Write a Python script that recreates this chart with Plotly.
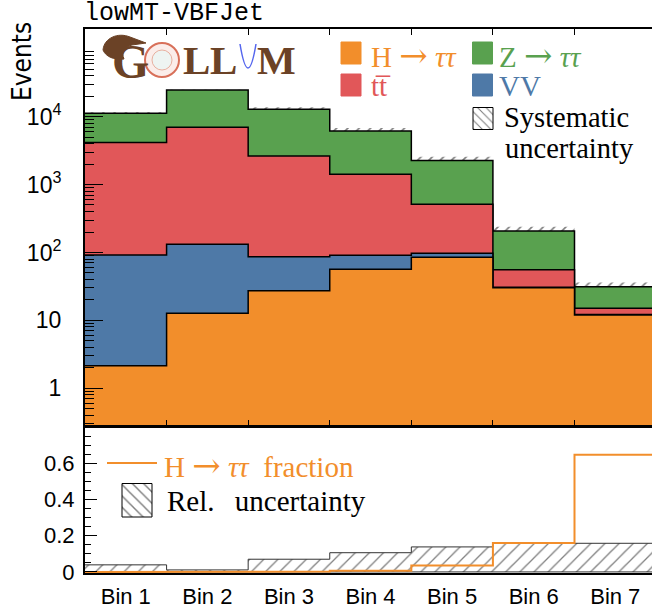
import plotly.graph_objects as go

# ---------------- data ----------------
bins = ["Bin 1", "Bin 2", "Bin 3", "Bin 4", "Bin 5", "Bin 6", "Bin 7"]
h_tautau = [2.15, 12.7, 27.4, 56.6, 85.1, 30.3, 12.0]
vv = [89.6, 119, 59.3, 34.5, 12.2, 0.5, 0.2]
ttbar = [4050, 6850, 2550, 1330, 416, 25.0, 2.9]
z_tautau = [7060, 17700, 10160, 4740, 1737, 151, 16.2]
rel_unc = [0.039, 0.011, 0.070, 0.106, 0.138, 0.158, 0.158]
h_fraction = [0.0002, 0.0005, 0.002, 0.006, 0.036, 0.160, 0.647]

C_H = "#F28E2B"
C_TT = "#E15759"
C_Z = "#59A14F"
C_VV = "#4E79A7"
BROWN = "#6B4226"

W, H = 652, 612
ML, MR, MT, MB = 85, 0, 29, 39
PW = W - ML - MR
PH = H - MT - MB


def px(x):
    return (x - ML) / PW


def py(y):
    return (H - MB - y) / PH


n = len(bins)
edges = [i + 0.5 for i in range(n + 1)]


def steps(vals):
    xs, ys = [], []
    for i, v in enumerate(vals):
        xs += [edges[i], edges[i + 1]]
        ys += [v, v]
    return xs, ys


# cumulative stacks
cum_h = list(h_tautau)
cum_vv = [a + b for a, b in zip(cum_h, vv)]
cum_tt = [a + b for a, b in zip(cum_vv, ttbar)]
cum_z = [a + b for a, b in zip(cum_tt, z_tautau)]

fig = go.Figure()

# systematic band (drawn below the stack)
up = [t * (1 + r) for t, r in zip(cum_z, rel_unc)]
dn = [t * (1 - r) for t, r in zip(cum_z, rel_unc)]
ux, uy = steps(up)
dx, dy = steps(dn)
fig.add_trace(go.Scatter(
    x=ux + dx[::-1], y=uy + dy[::-1], fill="toself", mode="lines",
    line=dict(width=0), fillcolor="rgba(0,0,0,0)",
    fillpattern=dict(shape="/", fgcolor="black", bgcolor="rgba(0,0,0,0)", size=8, solidity=0.2),
    xaxis="x", yaxis="y", showlegend=False, hoverinfo="skip"))

BASE = 0.05
for vals, col in [(cum_z, C_Z), (cum_tt, C_TT), (cum_vv, C_VV), (cum_h, C_H)]:
    sx, sy = steps(vals)
    fig.add_trace(go.Scatter(
        x=sx + [edges[-1], edges[0]], y=sy + [BASE, BASE], fill="toself", mode="lines",
        line=dict(width=0), fillcolor=col, xaxis="x", yaxis="y",
        showlegend=False, hoverinfo="skip"))
    fig.add_trace(go.Scatter(
        x=sx, y=sy, mode="lines", line=dict(color="black", width=1.5),
        xaxis="x", yaxis="y", showlegend=False, hoverinfo="skip"))

# bottom panel
rx, ry = steps(rel_unc)
fig.add_trace(go.Scatter(
    x=rx + [edges[-1], edges[0]], y=ry + [0, 0], fill="toself", mode="lines",
    line=dict(width=1, color="#333333"), fillcolor="rgba(0,0,0,0)",
    fillpattern=dict(shape="/", fgcolor="black", bgcolor="rgba(0,0,0,0)", size=10, solidity=0.13),
    xaxis="x2", yaxis="y2", showlegend=False, hoverinfo="skip"))
fx, fy = steps(h_fraction)
fig.add_trace(go.Scatter(
    x=fx, y=fy, mode="lines", line=dict(color=C_H, width=2),
    xaxis="x2", yaxis="y2", showlegend=False, hoverinfo="skip"))

# ------------- legend (pixel-coordinate overlay axes x3/y3) -------------
def box(x0, y0, x1, y1, color=None, pattern=None, psize=6):
    kw = {}
    if pattern:
        kw["fillpattern"] = dict(shape=pattern, fgcolor="black", bgcolor="white", size=psize, solidity=0.18)
        kw["fillcolor"] = "white"
        line = dict(color="black", width=1)
    else:
        kw["fillcolor"] = color
        line = dict(color=color, width=1)
    fig.add_trace(go.Scatter(
        x=[x0, x1, x1, x0, x0], y=[y0, y0, y1, y1, y0], fill="toself", mode="lines",
        line=line, xaxis="x3", yaxis="y3", showlegend=False, hoverinfo="skip", **kw))


box(341, 42, 361, 64, C_H)
box(341, 74, 361, 96, C_TT)
box(472.5, 42, 492.5, 64, C_Z)
box(472.5, 74, 492.5, 96, C_VV)
box(473, 107.5, 493, 129.5, pattern="\\", psize=6)
box(122, 483.5, 152, 517, pattern="\\", psize=8)
fig.add_trace(go.Scatter(x=[107, 157], y=[463, 463], mode="lines", line=dict(color=C_H, width=2),
                         xaxis="x3", yaxis="y3", showlegend=False, hoverinfo="skip"))

SERIF = "Liberation Serif, Times New Roman, serif"
ARROW = "<span style='font-family:DejaVu Serif;font-size:34px'>\u2192</span>"
ann = []


def text(x, y, s, color="black", size=29, family=SERIF, xanchor="left", **kw):
    ann.append(dict(x=px(x), y=py(y), xref="paper", yref="paper", text=s, showarrow=False,
                    xanchor=xanchor, yanchor="middle", font=dict(family=family, size=size, color=color), **kw))


text(369, 55, "H " + ARROW + " <i>\u03c4\u03c4</i>", C_H)
text(369, 86, "tt\u0305", C_TT)
text(497, 55, "Z " + ARROW + " <i>\u03c4\u03c4</i>", C_Z)
text(497, 86, "VV", C_VV)
text(502, 118, "Systematic", size=28.5)
text(503, 148, "uncertainty", size=28.5)
text(162, 465, "H " + ARROW + " <i>\u03c4\u03c4</i>&nbsp; fraction", C_H)
text(165, 501, "Rel.&nbsp;\u2009 uncertainty")

# title and y title
text(82, 14, "lowMT-VBFJet", size=25, family="Liberation Mono, Courier New, monospace")
text(22, 62, "Events", size=26, family="Liberation Sans Narrow, DejaVu Sans Condensed, Arial, sans-serif",
     xanchor="center", textangle=-90)

# logo
text(130, 61, "<b>G</b>", BROWN, size=48, xanchor="center")
text(196, 60, "<b>L</b>", BROWN, size=41, xanchor="center")
text(223, 60, "<b>L</b>", BROWN, size=41, xanchor="center")
text(276, 60, "<b>M</b>", BROWN, size=41, xanchor="center")

shapes = [
    # O ring of logo
    dict(type="circle", xref="x3", yref="y3", x0=145, x1=179, y0=43, y1=77,
         line=dict(color="#D8705A", width=2), fillcolor="#FBEDEA"),
    dict(type="circle", xref="x3", yref="y3", x0=152, x1=172, y0=50, y1=70,
         line=dict(color="#E8B0A0", width=1), fillcolor="#EEF4F2"),
    # U of logo as parabola
    dict(type="path", xref="x3", yref="y3", path="M 240,44 Q 248,92 256,44",
         line=dict(color="#5566EE", width=1.5)),
    # hat
    dict(type="path", xref="x3", yref="y3",
         path="M 103,50 C 104,38 118,32 130,37 L 146,43 L 132,45 C 124,47 121,52 124,59 C 114,60 106,57 103,50 Z",
         line=dict(color=BROWN, width=1), fillcolor=BROWN),
]

maj = [1, 10, 100, 1000, 10000, 100000]
minor_vals = [k * 10 ** e for e in range(-1, 6) for k in range(2, 10)]
AX_FONT = dict(family="Liberation Sans, Arial, sans-serif", size=23, color="black")

fig.update_layout(
    width=W, height=H, margin=dict(l=ML, r=MR, t=MT, b=MB, autoexpand=False),
    paper_bgcolor="white", plot_bgcolor="rgba(0,0,0,0)", showlegend=False,
    annotations=ann, shapes=shapes,
    xaxis=dict(domain=[0, 1], range=[0.5, 7.45], anchor="y", showline=True, linewidth=2, linecolor="black",
               mirror="ticks", ticks="inside", ticklen=6, tickwidth=1.2, tickcolor="black",
               tickvals=edges[1:], showticklabels=False, showgrid=False, zeroline=False),
    yaxis=dict(domain=[0.2702, 1], type="log", range=[-0.555, 5.29], anchor="x", showline=True, linewidth=2,
               linecolor="black", ticks="inside", ticklen=18, tickwidth=1.3, tickcolor="black",
               tickvals=[1, 10, 100, 1000, 10000],
               ticktext=["1", "10", "10<sup>2</sup>", "10<sup>3</sup>", "10<sup>4</sup>"],
               tickfont=AX_FONT, ticklabelstandoff=17, showgrid=False, zeroline=False,
               minor=dict(ticks="inside", ticklen=9, tickwidth=1, tickcolor="black", tickvals=minor_vals,
                          showgrid=False)),
    yaxis5=dict(overlaying="y", side="right", anchor="x", type="log", range=[-0.555, 5.29], showline=False,
                ticks="inside", ticklen=16, tickwidth=1.3, tickcolor="black", tickvals=maj,
                showticklabels=False, showgrid=False, zeroline=False,
                minor=dict(ticks="inside", ticklen=6, tickwidth=1, tickcolor="black", tickvals=minor_vals,
                           showgrid=False)),
    xaxis2=dict(domain=[0, 1], range=[0.5, 7.45], anchor="y2", showline=True, linewidth=2, linecolor="black",
                mirror=True, ticks="", tickvals=list(range(1, n + 1)), ticktext=bins,
                tickfont=dict(family="Liberation Sans, Arial, sans-serif", size=22, color="black"),
                ticklabelstandoff=3, showgrid=False, zeroline=False),
    yaxis2=dict(domain=[0, 0.2684], range=[-0.006, 0.8], anchor="x2", showline=True, linewidth=2,
                linecolor="black", ticks="inside", ticklen=12, tickwidth=1.3, tickcolor="black",
                tickvals=[0, 0.2, 0.4, 0.6], ticktext=["0", "0.2", "0.4", "0.6"],
                tickfont=dict(family="Liberation Sans, Arial, sans-serif", size=22, color="black"),
                ticklabelstandoff=4, showgrid=False, zeroline=False,
                minor=dict(ticks="inside", ticklen=6, tickwidth=1, tickcolor="black", dtick=0.05, showgrid=False)),
    yaxis6=dict(overlaying="y2", side="right", anchor="x2", range=[-0.006, 0.8], showline=False,
                ticks="inside", ticklen=13, tickwidth=1.3, tickcolor="black", tickvals=[0, 0.2, 0.4, 0.6],
                showticklabels=False, showgrid=False, zeroline=False,
                minor=dict(ticks="inside", ticklen=4, tickwidth=1, tickcolor="black", dtick=0.05, showgrid=False)),
    xaxis3=dict(domain=[0, 1], range=[ML, W - MR], anchor="y3", visible=False, fixedrange=True),
    yaxis3=dict(domain=[0, 1], range=[H - MB, MT], anchor="x3", visible=False, fixedrange=True),
)

fig.write_html("out.html")
